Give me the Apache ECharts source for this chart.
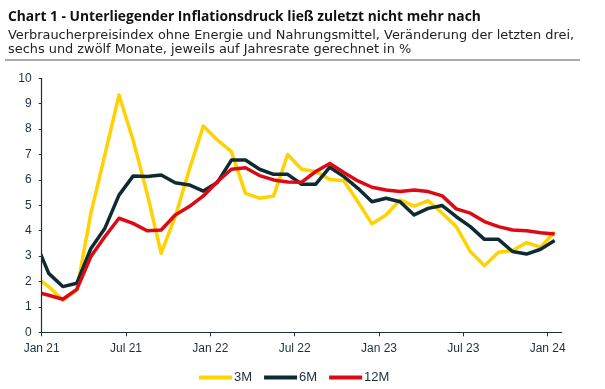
<!DOCTYPE html>
<html><head><meta charset="utf-8">
<script src="https://cdn.jsdelivr.net/npm/echarts@6/dist/echarts.min.js"></script>
<style>html,body{margin:0;padding:0;background:#fff}#c{width:605px;height:389px}</style>
</head><body><div id="c"></div>
<script>
// Months from Dec 20 to Jan 24 (Dec 20 lies before the axis start and is clipped)
const months = ['Dec 20','Jan 21','Feb 21','Mar 21','Apr 21','May 21','Jun 21','Jul 21','Aug 21','Sep 21','Oct 21','Nov 21','Dec 21',
  'Jan 22','Feb 22','Mar 22','Apr 22','May 22','Jun 22','Jul 22','Aug 22','Sep 22','Oct 22','Nov 22','Dec 22',
  'Jan 23','Feb 23','Mar 23','Apr 23','May 23','Jun 23','Jul 23','Aug 23','Sep 23','Oct 23','Nov 23','Dec 23','Jan 24'];
const s3M  = [2.2,1.8,1.27,1.67,4.69,7.0,9.34,7.57,5.47,3.11,4.55,6.4,8.12,
  7.57,7.11,5.47,5.28,5.37,7.0,6.42,6.33,6.02,5.97,5.14,4.27,
  4.62,5.21,4.97,5.18,4.69,4.16,3.18,2.62,3.15,3.22,3.53,3.35,3.96];
const s6M  = [3.64,2.32,1.8,1.93,3.3,4.1,5.4,6.15,6.13,6.19,5.89,5.8,5.56,
  5.9,6.78,6.78,6.42,6.22,6.22,5.83,5.83,6.5,6.13,5.67,5.14,
  5.28,5.14,4.62,4.88,4.99,4.55,4.16,3.66,3.66,3.18,3.08,3.27,3.61];
const s12M = [1.6,1.46,1.3,1.69,2.98,3.77,4.49,4.29,4.0,4.03,4.62,4.95,5.37,
  5.93,6.42,6.48,6.17,6.0,5.92,5.91,6.33,6.65,6.29,5.96,5.71,
  5.6,5.54,5.6,5.54,5.37,4.86,4.69,4.36,4.16,4.03,4.0,3.92,3.87];
const seriesNames = ['3M','6M','12M'];
const xTickLabels = ['Jan 21','Jul 21','Jan 22','Jul 22','Jan 23','Jul 23','Jan 24'];
const xTickPos = [0,6,12,18,24,30,36];

const colors = ['#FFD200','#0E2A33','#DD0A14'];
const ink = '#1D2F3D';
function pairs(arr){ return arr.map((v,i)=>[i-0.5, v]); } // mid-month positions
const chart = echarts.init(document.getElementById('c'), null, {renderer:'canvas'});
chart.setOption({
  animation:false,
  backgroundColor:'#fff',
  title:{
    text:'Chart 1 - Unterliegender Inflationsdruck ließ zuletzt nicht mehr nach',
    subtext:'Verbraucherpreisindex ohne Energie und Nahrungsmittel, Veränderung der letzten drei,\nsechs und zwölf Monate, jeweils auf Jahresrate gerechnet in %',
    left:3, top:5, itemGap:5,
    textStyle:{fontFamily:'Open Sans', fontWeight:'bold', fontSize:13.8, color:'#111'},
    subtextStyle:{fontFamily:'DejaVu Sans', fontSize:12.9, color:'#222', lineHeight:13.5}
  },
  graphic:[
    {type:'line', shape:{x1:5,y1:60,x2:580,y2:60}, style:{stroke:'#aaaaaa', lineWidth:2}},
    {type:'rect', z:50, shape:{x:0,y:70,width:41,height:270}, style:{fill:'#fff'}}
  ],
  grid:{left:41.7, right:43.3, top:78.3, bottom:56.7},
  legend:{
    bottom:0, left:194,
    data:seriesNames, icon:'rect', itemWidth:33, itemHeight:4, itemGap:12,
    textStyle:{fontFamily:'Liberation Sans', fontSize:13, color:ink, padding:[0,0,0,-3]}
  },
  xAxis:{
    type:'value', min:0, max:37,
    axisLine:{lineStyle:{color:ink, width:1.2}},
    axisTick:{show:true, customValues:xTickPos, length:4, lineStyle:{color:ink}},
    splitLine:{show:false},
    axisLabel:{customValues:xTickPos, color:ink, fontFamily:'Liberation Sans', fontSize:12, margin:10,
      formatter:v=>xTickLabels[xTickPos.indexOf(Math.round(v))] || ''}
  },
  yAxis:{
    type:'value', min:0, max:10, interval:1, z:100,
    axisLine:{show:true, lineStyle:{color:ink, width:1.2}},
    axisTick:{show:true, length:3, lineStyle:{color:ink}},
    splitLine:{show:false},
    axisLabel:{color:ink, fontFamily:'Liberation Sans', fontSize:12, margin:10}
  },
  series:[s3M,s6M,s12M].map((d,i)=>({
    name:seriesNames[i], type:'line', data:pairs(d), showSymbol:false, clip:true,
    lineStyle:{width:3.5, color:colors[i], join:'round'}, itemStyle:{color:colors[i]}
  }))
});
</script></body></html>
